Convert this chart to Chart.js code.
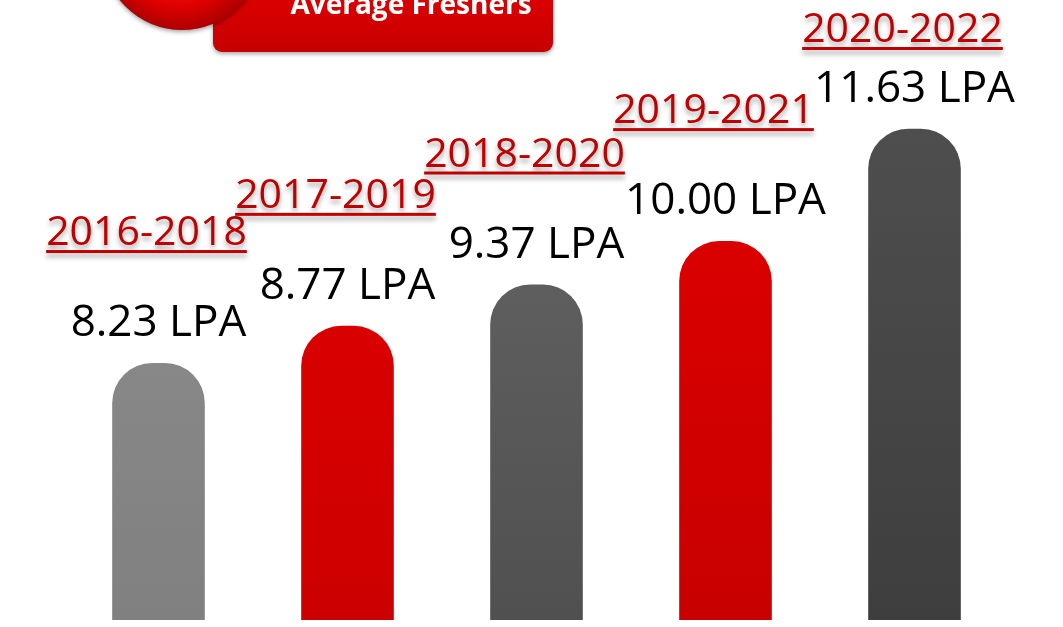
<!DOCTYPE html>
<html>
<head>
<meta charset="utf-8">
<script src="https://cdn.jsdelivr.net/npm/chart.js@4.4.1/dist/chart.umd.min.js"></script>
<style>
  html, body { margin: 0; padding: 0; background: #ffffff; }
  #wrap { width: 1063px; height: 627px; position: relative; }
</style>
</head>
<body>
<div id="wrap"><canvas id="c"></canvas></div>
<script>
// ---- data ----
const periods = ['2016-2018', '2017-2019', '2018-2020', '2019-2021', '2020-2022'];
const packages = [8.23, 8.77, 9.37, 10.00, 11.63];
const valueLabels = ['8.23 LPA', '8.77 LPA', '9.37 LPA', '10.00 LPA', '11.63 LPA'];
const bannerTitle = 'Average Freshers';

// ---- styles ----
const barTop = ['#929292', '#e80000', '#6a6a6a', '#e60000', '#525252'];
const barBottom = ['#808080', '#cc0000', '#505050', '#c80000', '#3e3e3e'];

function barGradient(ctx) {
  const chart = ctx.chart;
  const area = chart.chartArea;
  if (!area) return barTop[ctx.dataIndex];
  const meta = chart.getDatasetMeta(0);
  const el = meta.data[ctx.dataIndex];
  const top = el && isFinite(el.y) ? el.y : area.top;
  const g = chart.ctx.createLinearGradient(0, top, 0, area.bottom);
  g.addColorStop(0, barTop[ctx.dataIndex]);
  g.addColorStop(1, barBottom[ctx.dataIndex]);
  return g;
}

const decoPlugin = {
  id: 'deco',
  beforeDraw(chart) {
    const c = chart.ctx;
    c.save();
    // banner rectangle
    const rx = 213, ry = -20, rw = 340, rh = 72, rr = 9;
    const rg = c.createLinearGradient(0, ry, 0, ry + rh);
    rg.addColorStop(0, '#e00000');
    rg.addColorStop(1, '#c80000');
    c.shadowColor = 'rgba(0,0,0,0.35)';
    c.shadowBlur = 4;
    c.shadowOffsetY = 2;
    c.beginPath();
    c.roundRect(rx, ry, rw, rh, rr);
    c.fillStyle = rg;
    c.fill();
    // circle
    const cg = c.createRadialGradient(170, -62, 8, 182, -50, 82);
    cg.addColorStop(0, '#ff2a2a');
    cg.addColorStop(0.7, '#e00000');
    cg.addColorStop(1, '#a80000');
    c.beginPath();
    c.arc(182, -50, 80, 0, Math.PI * 2);
    c.fillStyle = cg;
    c.fill();
    c.shadowColor = 'transparent';
    // banner text
    c.fillStyle = '#ffffff';
    c.font = 'bold 28px "Open Sans", "DejaVu Sans", sans-serif';
    c.textAlign = 'center';
    c.textBaseline = 'alphabetic';
    c.fillText(bannerTitle, 411, 14);
    c.restore();
  },
  afterDatasetsDraw(chart) {
    const c = chart.ctx;
    const meta = chart.getDatasetMeta(0);
    c.save();
    c.textAlign = 'center';
    c.textBaseline = 'alphabetic';
    meta.data.forEach((bar, i) => {
      const x = bar.x;
      const top = bar.y;
      // value label
      c.fillStyle = '#000000';
      c.font = '44px "Open Sans", "Noto Sans", sans-serif';
      c.fillText(valueLabels[i], x, top - 27);
      // period label (kept inside the canvas)
      const px = x - 12;
      const py = Math.max(top - 118, 42);
      c.font = '41px "Open Sans", "Noto Sans", sans-serif';
      const w = c.measureText(periods[i]).width;
      c.shadowColor = 'rgba(0,0,0,0.35)';
      c.shadowBlur = 5;
      c.shadowOffsetY = 4;
      c.fillStyle = '#c00000';
      c.fillText(periods[i], px, py);
      c.fillRect(px - w / 2, py + 5, w, 3);
      c.shadowColor = 'transparent';
    });
    c.restore();
  }
};

new Chart(document.getElementById('c'), {
  type: 'bar',
  data: {
    labels: periods,
    datasets: [{
      data: packages,
      backgroundColor: barGradient,
      borderWidth: 0,
      borderSkipped: false,
      borderRadius: { topLeft: 40, topRight: 40, bottomLeft: 6, bottomRight: 6 },
      barPercentage: 0.49,
      categoryPercentage: 1.0
    }]
  },
  options: {
    responsive: true,
    maintainAspectRatio: false,
    animation: false,
    layout: { padding: { left: 64, right: 54, top: 0, bottom: 7 } },
    plugins: { legend: { display: false }, tooltip: { enabled: false } },
    scales: {
      x: { display: false },
      y: { display: false, min: 4.5, max: 13.5 }
    }
  },
  plugins: [decoPlugin]
});
</script>
</body>
</html>
